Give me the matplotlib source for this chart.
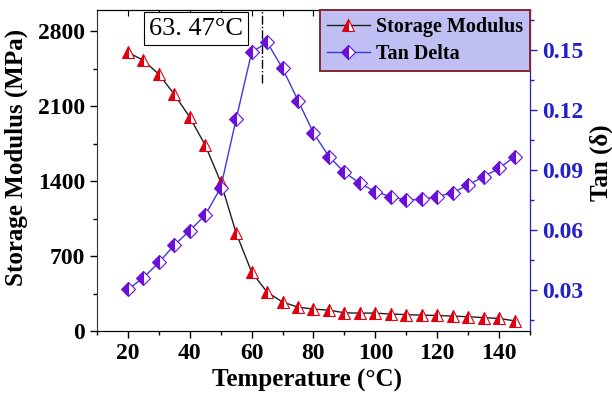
import numpy as np
import matplotlib.pyplot as plt
from matplotlib.ticker import MultipleLocator

plt.rcParams['font.family'] = ['Liberation Serif', 'DejaVu Serif']
plt.rcParams['font.weight'] = 'bold'
plt.rcParams['axes.labelweight'] = 'bold'

temp = [20, 25, 30, 35, 40, 45, 50, 55, 60, 65, 70, 75, 80, 85, 90, 95,
        100, 105, 110, 115, 120, 125, 130, 135, 140, 145]
storage = [2604, 2529, 2399, 2212, 1997, 1736, 1393, 915, 551, 364, 271, 224,
           205, 196, 171, 168, 168, 159, 154, 149, 146, 140, 134, 126, 118, 96]
tan_delta = [0.0303, 0.0362, 0.0438, 0.0525, 0.0597, 0.0675, 0.0812, 0.1155,
             0.1488, 0.1538, 0.1408, 0.1247, 0.1085, 0.0967, 0.0889, 0.0833,
             0.0792, 0.0767, 0.0750, 0.0753, 0.0767, 0.0787, 0.0825, 0.0867,
             0.0908, 0.0967]
t_peak = 63.47

red = '#e00010'
purple = '#6a10d8'
blue = '#2222c8'

fig = plt.figure(figsize=(6.12, 3.97), dpi=100)
ax = fig.add_axes([0.1585, 0.166, 0.7075, 0.809])
ax2 = ax.twinx()

l1, = ax.plot(temp, storage, color='#202020', lw=1.0, marker='^', ms=8,
              fillstyle='left', markerfacecolor=red, markerfacecoloralt='white',
              markeredgecolor=red, markeredgewidth=0.8, label='Storage Modulus')
l2, = ax2.plot(temp, tan_delta, color='#3a3ae0', lw=1.0, marker='D', ms=7,
               fillstyle='left', markerfacecolor=purple, markerfacecoloralt='white',
               markeredgecolor=purple, markeredgewidth=0.8, label='Tan Delta')

# glass transition marker
ax.plot([t_peak, t_peak], [2320, 3000], color='black', lw=1.0, ls='-.')
ax.text(42, 2825, '63. 47°C', fontsize=19, fontweight='normal', ha='center',
        va='center', bbox=dict(boxstyle='square,pad=0.2', fc='white', ec='black', lw=0.8))

ax.set_xlim(10, 150)
ax.set_ylim(0, 3000)
ax2.set_ylim(0.0095, 0.17)

ax.xaxis.set_major_locator(MultipleLocator(20))
ax.xaxis.set_minor_locator(MultipleLocator(10))
ax.yaxis.set_major_locator(MultipleLocator(700))
ax.yaxis.set_minor_locator(MultipleLocator(350))
ax2.yaxis.set_major_locator(MultipleLocator(0.03))
ax2.yaxis.set_minor_locator(MultipleLocator(0.015))
ax2.yaxis.set_major_formatter(lambda v, p: f'{v:.2f}')

ax.tick_params(axis='both', which='major', labelsize=17, length=5, width=1, direction='out')
ax.tick_params(axis='both', which='minor', length=3, width=1, direction='out')
ax2.tick_params(axis='y', which='major', labelsize=17, length=5, width=1,
                colors=blue, labelcolor=blue)
ax2.tick_params(axis='y', which='minor', length=3, width=1, colors=blue)

top = ax.secondary_xaxis('top')
top.xaxis.set_major_locator(MultipleLocator(10))
top.tick_params(direction='in', length=4, labeltop=False)

for s in ['left', 'bottom', 'top']:
    ax.spines[s].set_color('#333333')
ax2.spines['right'].set_color(blue)
ax2.spines['left'].set_visible(False)
top.spines['top'].set_color('#555555')

ax.set_xlabel('Temperature (°C)', fontsize=18)
ax.set_ylabel('Storage Modulus (MPa)', fontsize=18)
ax2.set_ylabel('Tan (δ)', fontsize=18)
ax.xaxis.set_label_coords(0.486, -0.118)
ax.yaxis.set_label_coords(-0.16, 0.542)
ax2.yaxis.set_label_coords(1.137, 0.523)

leg = ax2.legend(handles=[l1, l2], loc='upper right',
                 frameon=True, fancybox=False, borderaxespad=0.0,
                 handlelength=2.1, handletextpad=0.3, borderpad=0.36,
                 labelspacing=0.32, prop={'weight': 'bold', 'size': 14.5})
leg.get_frame().set_facecolor('#bfbff4')
leg.get_frame().set_edgecolor('#862436')
leg.get_frame().set_alpha(1)
leg.get_frame().set_linewidth(1.4)

fig.savefig('out.png', dpi=100)
